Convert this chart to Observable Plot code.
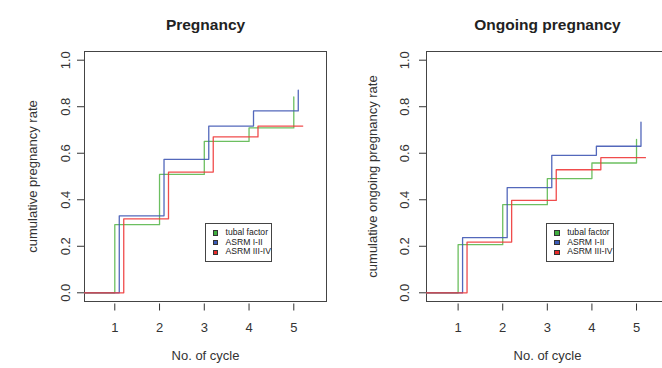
<!DOCTYPE html>
<html><head><meta charset="utf-8">
<script src="https://cdn.jsdelivr.net/npm/d3@7"></script>
<script src="https://cdn.jsdelivr.net/npm/@observablehq/plot@0.6"></script>
<style>
html,body{margin:0;padding:0;background:#fff;}
#root{position:relative;width:662px;height:368px;overflow:hidden;font-family:"Liberation Sans",Arial,Helvetica,sans-serif;}
.panel{position:absolute;top:0;width:340px;height:368px;}
.panel svg{display:block;}
.legend{position:absolute;border:1px solid #444;box-sizing:border-box;background:#fff;font-size:8.6px;color:#222;}
.legend .row{position:absolute;left:0;right:0;height:9.7px;line-height:9.7px;white-space:nowrap;}
.legend .sw{position:absolute;top:2.2px;width:5.5px;height:5.5px;box-sizing:border-box;border:1px solid #333;}
.legend .lb{position:absolute;}
</style></head>
<body><div id="root"></div>
<script>
// ---- data ----
const groups = ["tubal factor", "ASRM I-II", "ASRM III-IV"];
const lineColors = ["#5cb84f", "#4058b4", "#ee3838"];
const swatchColors = ["#3fae3f", "#3a5ab8", "#e82a2a"];
const xTicks = [1, 2, 3, 4, 5];
const yTicks = [0, 0.2, 0.4, 0.6, 0.8, 1.0];

const cycleTubal  = [0, 1, 2, 3, 4, 5];
const cycleAsrm12 = [0, 1.1, 2.1, 3.1, 4.1, 5.1];
const cycleAsrm34 = [0, 1.2, 2.2, 3.2, 4.2, 5.2];

const pregTubal  = [0, 0.293, 0.509, 0.651, 0.709, 0.842];
const pregAsrm12 = [0, 0.331, 0.574, 0.717, 0.782, 0.871];
const pregAsrm34 = [0, 0.318, 0.519, 0.670, 0.717, 0.717];

const ongTubal  = [0, 0.207, 0.379, 0.491, 0.558, 0.660];
const ongAsrm12 = [0, 0.237, 0.452, 0.591, 0.630, 0.734];
const ongAsrm34 = [0, 0.218, 0.397, 0.529, 0.581, 0.581];

const cycles = [cycleTubal, cycleAsrm12, cycleAsrm34];

function rows(values) {
  const out = [];
  values.forEach((vals, g) => vals.forEach((v, i) => out.push({group: groups[g], cycle: cycles[g][i], rate: v})));
  return out;
}

const root = document.getElementById("root");
const FONT = '"Liberation Sans",Arial,Helvetica,sans-serif';

function panel({left, title, ylabel, values, xDomain, yTickPad, ylabelDx}) {
  const div = document.createElement("div");
  div.className = "panel";
  div.style.left = left + "px";
  const data = rows(values);
  const chart = Plot.plot({
    width: 340, height: 368,
    marginTop: 51, marginBottom: 67, marginLeft: 84, marginRight: 14,
    x: {domain: xDomain},
    y: {domain: [-0.0374, 1.0374]},
    style: {fontFamily: FONT, fontSize: "13px", color: "#333", background: "white", overflow: "visible"},
    marks: [
      Plot.frame({stroke: "#444"}),
      ...groups.map((g, i) => Plot.line(data.filter(d => d.group === g), {
        x: "cycle", y: "rate", curve: "step-after", stroke: lineColors[i],
        strokeWidth: 1.3, strokeOpacity: 0.9, clip: true
      })),
      Plot.axisX({ticks: xTicks, tickSize: 7, dy: 2.5, tickPadding: 12, tickFormat: d3.format("d"), label: null}),
      Plot.axisY({ticks: yTicks, tickSize: 7, tickRotate: -90, tickPadding: yTickPad, tickFormat: d3.format(".1f"), label: null}),
      Plot.text([title], {text: d => d, frameAnchor: "top", dy: -32.8, fontWeight: "bold", fontSize: 15.5, fill: "#222"}),
      Plot.text(["No. of cycle"], {text: d => d, frameAnchor: "bottom", dy: 58.5, fontSize: 13, fill: "#333"}),
      Plot.text([ylabel], {text: d => d, frameAnchor: "left", textAnchor: "middle", dx: ylabelDx, rotate: -90, fontSize: 13, fill: "#333"})
    ]
  });
  div.appendChild(chart);
  // legend
  const lg = document.createElement("div");
  lg.className = "legend";
  lg.style.left = (84 + 120.5) + "px";
  lg.style.top = "222.7px";
  lg.style.width = "67.7px";
  lg.style.height = "39.6px";
  groups.forEach((g, i) => {
    const r = document.createElement("div");
    r.className = "row";
    r.style.top = (4.3 + i * 9.7) + "px";
    const sw = document.createElement("span");
    sw.className = "sw";
    sw.style.left = "7px";
    sw.style.background = swatchColors[i];
    const lb = document.createElement("span");
    lb.className = "lb";
    lb.style.left = "20px";
    lb.textContent = g;
    r.appendChild(sw); r.appendChild(lb);
    lg.appendChild(r);
  });
  div.appendChild(lg);
  root.appendChild(div);
}

panel({left: 0, title: "Pregnancy", ylabel: "cumulative pregnancy rate",
  values: [pregTubal, pregAsrm12, pregAsrm34], xDomain: [0.323, 5.731], yTickPad: 7.4, ylabelDx: -52});
panel({left: 341.7, title: "Ongoing pregnancy", ylabel: "cumulative ongoing pregnancy rate",
  values: [ongTubal, ongAsrm12, ongAsrm34], xDomain: [0.291, 5.717], yTickPad: 10.8, ylabelDx: -53.7});
</script>
</body></html>
